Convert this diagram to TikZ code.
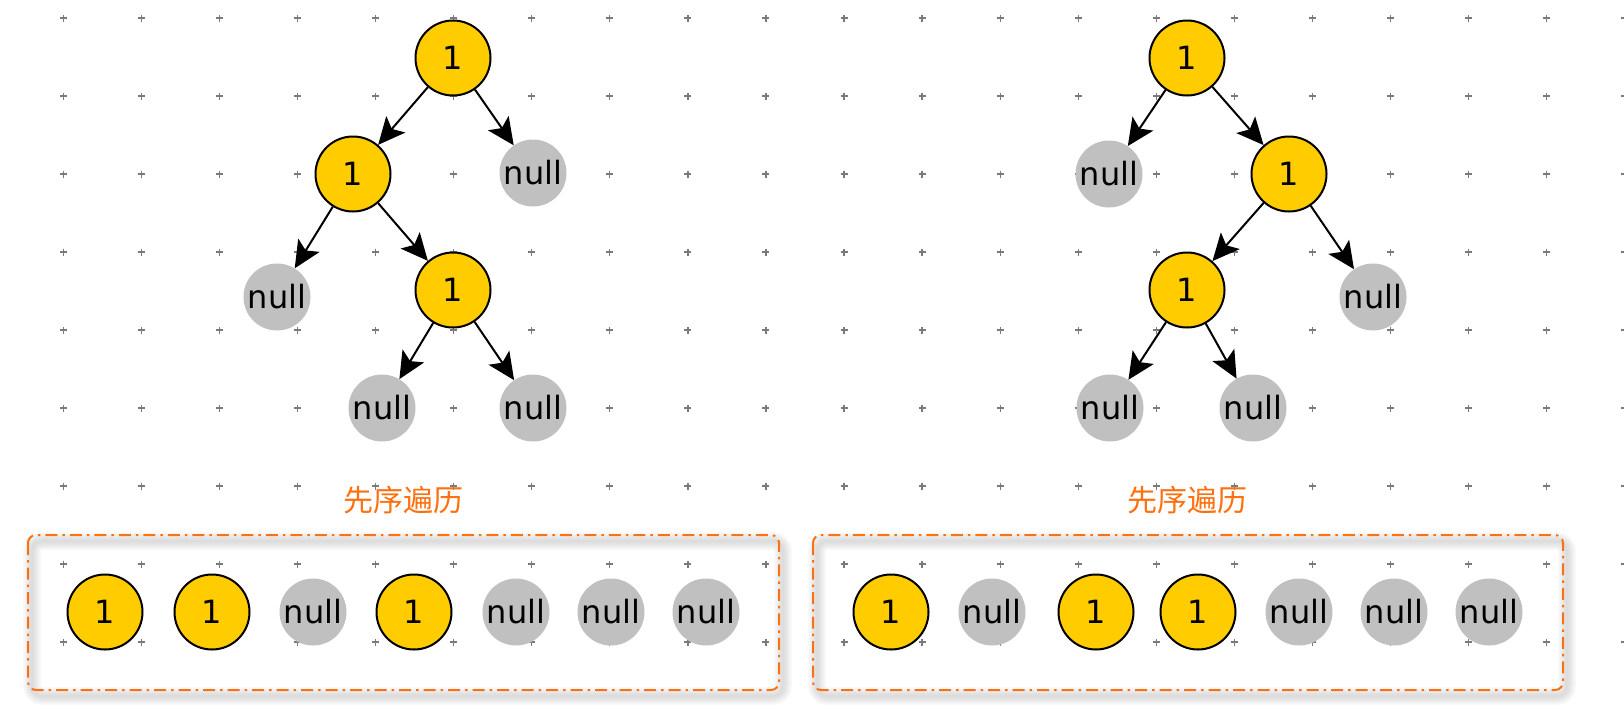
\documentclass[tikz,border=0pt]{standalone}
\usepackage{fontspec}
\setmainfont{DejaVu Sans}
\newfontfamily\cjkfont{Noto Sans CJK SC}
\usetikzlibrary{arrows.meta}

\definecolor{valyellow}{HTML}{FFCC00}
\definecolor{nullgrey}{HTML}{C0C0C0}
\definecolor{traceorange}{HTML}{FF7010}
\definecolor{gridgrey}{HTML}{7A7A7A}

\tikzset{
  valnode/.style={circle, draw=black, line width=2pt, fill=valyellow,
    minimum size=75pt, inner sep=0pt, font=\fontsize{32}{32}\selectfont},
  nullnode/.style={circle, fill=nullgrey, minimum size=67pt, inner sep=0pt,
    font=\fontsize{32}{32}\selectfont},
  link/.style={-{Stealth[length=27pt, width=25pt, inset=6pt]}, line width=2pt},
  caption/.style={text=traceorange, font=\cjkfont\fontsize{30}{30}\selectfont},
  tracebox/.style={draw=traceorange, line width=2pt, rounded corners=8pt,
    dash pattern=on 12pt off 5pt on 2.5pt off 5pt},
  boxshade/.style={draw=black, rounded corners=10pt, draw opacity=0.025},
  gridmark/.style={draw=gridgrey, line width=1.2pt},
}

\begin{document}
\begin{tikzpicture}[x=1pt, y=-1pt]
  \useasboundingbox (0,0) rectangle (1624,710);

  % dotted background grid
  \foreach \i in {0,...,20}{
    \foreach \j in {0,...,8}{
      \path[gridmark] ({63.5+78.05*\i-3.5},{18+78*\j}) -- ++(7,0)
                      ({63.5+78.05*\i},{18+78*\j-3.5}) -- ++(0,7);
    }
  }

  % left tree
  \node[valnode]  (a0) at (453,58)  {1};
  \node[valnode]  (a1) at (353,174) {1};
  \node[nullnode] (a2) at (533,173) {null};
  \node[nullnode] (a3) at (277,297) {null};
  \node[valnode]  (a4) at (453,290) {1};
  \node[nullnode] (a5) at (382,408) {null};
  \node[nullnode] (a6) at (533,408) {null};
  \draw[link] (a0) -- (a1);
  \draw[link] (a0) -- (a2);
  \draw[link] (a1) -- (a3);
  \draw[link] (a1) -- (a4);
  \draw[link] (a4) -- (a5);
  \draw[link] (a4) -- (a6);

  % right tree
  \node[valnode]  (b0) at (1187,58)  {1};
  \node[nullnode] (b1) at (1109,174) {null};
  \node[valnode]  (b2) at (1289,174) {1};
  \node[valnode]  (b3) at (1187,290) {1};
  \node[nullnode] (b4) at (1373,297) {null};
  \node[nullnode] (b5) at (1110,408) {null};
  \node[nullnode] (b6) at (1253,408) {null};
  \draw[link] (b0) -- (b1);
  \draw[link] (b0) -- (b2);
  \draw[link] (b2) -- (b3);
  \draw[link] (b2) -- (b4);
  \draw[link] (b3) -- (b5);
  \draw[link] (b3) -- (b6);

  % captions
  \node[caption] (capA) at (403,500) {先序遍历};
  \node[caption] (capB) at (1187,500) {先序遍历};

  % soft shadows under the sequence frames
  \foreach \w in {3,6,9,12,15,18}{
    \path[boxshade, line width=\w pt] (32,541) rectangle (783,696);
    \path[boxshade, line width=\w pt] (817,541) rectangle (1567,696);
  }

  % sequence frames
  \path[tracebox] (28,535) rectangle (779,690);
  \path[tracebox] (813,535) rectangle (1563,690);

  % left sequence
  \node[valnode]  (s1) at (105,612) {1};
  \node[valnode]  (s2) at (212,612) {1};
  \node[nullnode] (s3) at (313,612) {null};
  \node[valnode]  (s4) at (414,612) {1};
  \node[nullnode] (s5) at (516,612) {null};
  \node[nullnode] (s6) at (611,612) {null};
  \node[nullnode] (s7) at (706,612) {null};

  % right sequence
  \node[valnode]  (t1) at (891,612)  {1};
  \node[nullnode] (t2) at (992,612)  {null};
  \node[valnode]  (t3) at (1096,612) {1};
  \node[valnode]  (t4) at (1198,612) {1};
  \node[nullnode] (t5) at (1299,612) {null};
  \node[nullnode] (t6) at (1394,612) {null};
  \node[nullnode] (t7) at (1489,612) {null};
\end{tikzpicture}
\end{document}
